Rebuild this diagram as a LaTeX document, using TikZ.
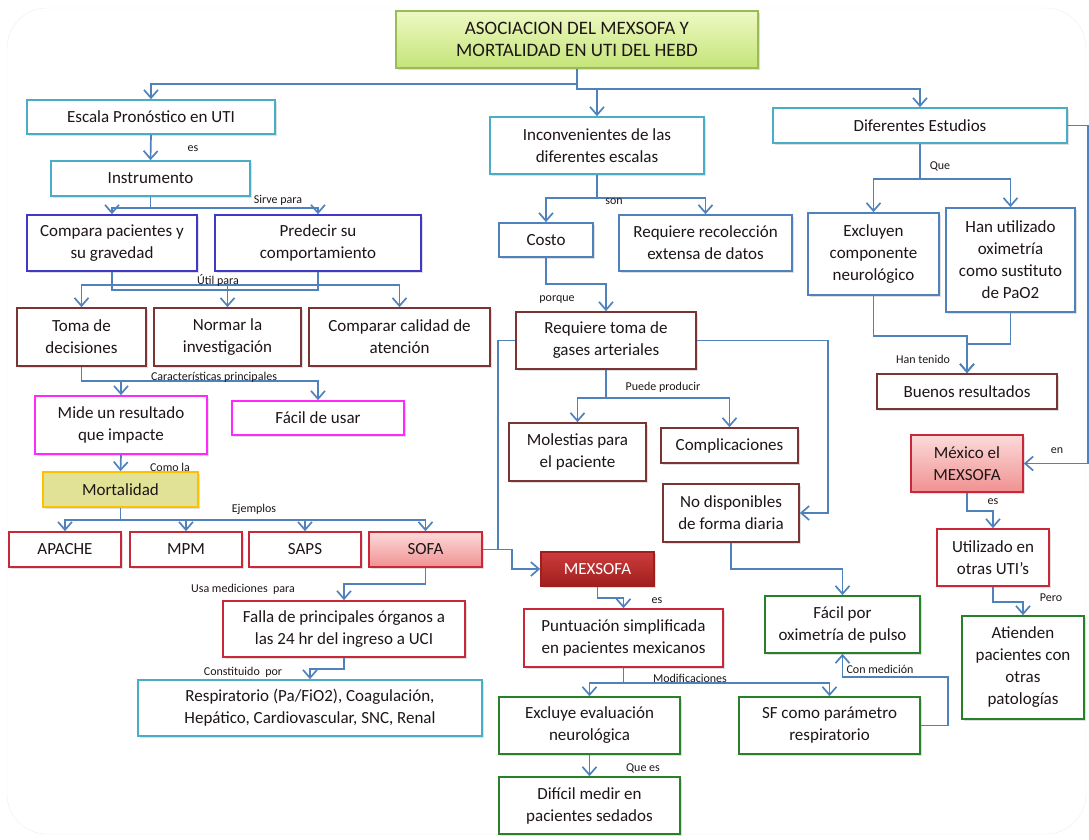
\documentclass[tikz,border=0pt]{standalone}
\usepackage{fontspec}
\setmainfont{Carlito}
\usetikzlibrary{arrows.meta,shadows}
\definecolor{cLink}{RGB}{79,129,189}
\definecolor{cSky}{RGB}{75,172,198}
\definecolor{cBlue}{RGB}{79,129,189}
\definecolor{cViolet}{RGB}{64,56,200}
\definecolor{cBrown}{RGB}{122,52,52}
\definecolor{cMagenta}{RGB}{255,40,255}
\definecolor{cRed}{RGB}{200,40,55}
\definecolor{cGreen}{RGB}{40,128,40}
\definecolor{cGold}{RGB}{255,192,0}
\definecolor{cOlive}{RGB}{226,226,150}
\definecolor{cPinkTop}{RGB}{252,218,218}
\definecolor{cPinkBot}{RGB}{240,145,145}
\definecolor{cWineTop}{RGB}{205,60,60}
\definecolor{cWineBot}{RGB}{160,30,30}
\definecolor{cLimeTop}{RGB}{238,249,195}
\definecolor{cLimeBot}{RGB}{196,228,120}
\definecolor{cLimeEdge}{RGB}{155,187,89}
\definecolor{cText}{RGB}{30,22,22}
\newcommand\cmapfont{\fontsize{17}{22}\selectfont}
\newcommand\cmaptitle{\fontsize{19}{22}\selectfont}
\newcommand\cmaptag{\fontsize{12}{14}\selectfont}
\tikzset{
  concept/.style={draw,fill=white,line width=1.7pt,align=center,inner sep=2pt,text=cText,font=\cmapfont,
    drop shadow={shadow xshift=2pt,shadow yshift=-2pt,opacity=0.25}},
  sky/.style={concept,draw=cSky},
  blue/.style={concept,draw=cBlue},
  violet/.style={concept,draw=cViolet},
  brown/.style={concept,draw=cBrown},
  magenta/.style={concept,draw=cMagenta},
  red/.style={concept,draw=cRed},
  green/.style={concept,draw=cGreen},
  pink/.style={concept,draw=cRed,top color=cPinkTop,bottom color=cPinkBot},
  wine/.style={concept,draw=cWineBot,top color=cWineTop,bottom color=cWineBot,text=white},
  link/.style={draw=cLink,line width=1.7pt,-{Straight Barb[length=8pt,width=14pt]}},
  wire/.style={draw=cLink,line width=1.7pt},
  tag/.style={font=\cmaptag,inner sep=1pt,text=cText},
}
\begin{document}
\begin{tikzpicture}[x=1pt,y=-1pt]
\useasboundingbox (0,0) rectangle (1089,839);
\draw[black!7,rounded corners=40pt] (7,8) rectangle (1086,834);

% title
\node[concept,draw=cLimeEdge,top color=cLimeTop,bottom color=cLimeBot,font=\cmaptitle,minimum width=362pt,minimum height=57pt] (title) at (577,39.5) {ASOCIACION DEL MEXSOFA Y\\MORTALIDAD EN UTI DEL HEBD};

% left column
\node[sky,minimum width=248pt,minimum height=34pt] (escala) at (151,117) {Escala Pronóstico en UTI};
\node[sky,minimum width=199pt,minimum height=35pt] (instr) at (150.5,178.5) {Instrumento};
\node[violet,minimum width=170pt,minimum height=56pt] (comp) at (112,243) {Compara pacientes y\\su gravedad};
\node[violet,minimum width=206pt,minimum height=56pt] (pred) at (318,243) {Predecir su\\comportamiento};
\node[brown,minimum width=129pt,minimum height=58pt] (toma) at (81.5,337) {Toma de\\decisiones};
\node[brown,minimum width=147pt,minimum height=58pt] (normar) at (227.5,337) {Normar la\\investigación};
\node[brown,minimum width=181pt,minimum height=58pt] (compcal) at (399.5,337) {Comparar calidad de\\atención};
\node[magenta,minimum width=172pt,minimum height=58pt] (mide) at (121,425) {Mide un resultado\\que impacte};
\node[magenta,minimum width=172pt,minimum height=34pt] (facil) at (318,418) {Fácil de usar};
\node[concept,draw=cGold,fill=cOlive,minimum width=155pt,minimum height=35pt] (mort) at (120.5,489.5) {Mortalidad};
\node[red,minimum width=112pt,minimum height=35pt] (apache) at (65,549.5) {APACHE};
\node[red,minimum width=112pt,minimum height=35pt] (mpm) at (186,549.5) {MPM};
\node[red,minimum width=112pt,minimum height=35pt] (saps) at (305,549.5) {SAPS};
\node[pink,minimum width=113pt,minimum height=35pt] (sofa) at (425.5,549.5) {SOFA};
\node[red,minimum width=242pt,minimum height=56pt] (falla) at (344,629) {Falla de principales órganos a\\las 24 hr del ingreso a UCI};
\node[sky,minimum width=344pt,minimum height=56pt] (resp) at (310,708) {Respiratorio (Pa/FiO2), Coagulación,\\Hepático, Cardiovascular, SNC, Renal};

% middle column
\node[sky,minimum width=214pt,minimum height=57pt] (inconv) at (597,145.5) {Inconvenientes de las\\diferentes escalas};
\node[blue,minimum width=94pt,minimum height=34pt] (costo) at (546,240) {Costo};
\node[blue,minimum width=173pt,minimum height=56pt] (recol) at (705.5,243) {Requiere recolección\\extensa de datos};
\node[brown,minimum width=180pt,minimum height=57pt] (reqgas) at (606,340.5) {Requiere toma de\\gases arteriales};
\node[brown,minimum width=137pt,minimum height=58pt] (molest) at (577.5,452) {Molestias para\\el paciente};
\node[brown,minimum width=137pt,minimum height=35pt] (compl) at (729.5,445.5) {Complicaciones};
\node[brown,minimum width=136pt,minimum height=58pt] (nodisp) at (731,513) {No disponibles\\de forma diaria};
\node[wine,minimum width=113pt,minimum height=34pt] (mexsofa) at (597.5,569) {MEXSOFA};
\node[red,minimum width=199pt,minimum height=58pt] (punt) at (623.5,638) {Puntuación simplificada\\en pacientes mexicanos};
\node[green,minimum width=181pt,minimum height=57pt] (exclev) at (589.5,725.5) {Excluye evaluación\\neurológica};
\node[green,minimum width=181pt,minimum height=57pt] (sf) at (829.5,725.5) {SF como parámetro\\respiratorio};
\node[green,minimum width=181pt,minimum height=57pt] (dificil) at (589.5,805.5) {Difícil medir en\\pacientes sedados};
\node[green,minimum width=155pt,minimum height=57pt] (fox) at (842.5,624.5) {Fácil por\\oximetría de pulso};

% right column
\node[sky,minimum width=294pt,minimum height=35pt] (dif) at (920,125.5) {Diferentes Estudios};
\node[blue,minimum width=131pt,minimum height=82pt] (excl) at (873.5,254) {Excluyen\\componente\\neurológico};
\node[blue,minimum width=129pt,minimum height=104pt] (han) at (1010.5,260) {Han utilizado\\oximetría\\como sustituto\\de PaO2};
\node[brown,minimum width=180pt,minimum height=35pt] (buenos) at (967,391.5) {Buenos resultados};
\node[pink,minimum width=112pt,minimum height=57pt] (mex) at (967,463.5) {México el\\MEXSOFA};
\node[red,minimum width=112pt,minimum height=57pt] (util) at (993,557.5) {Utilizado en\\otras UTI’s};
\node[green,minimum width=122pt,minimum height=103pt] (atien) at (1023,667.5) {Atienden\\pacientes con\\otras\\patologías};

% connectors
\draw[link] (title.south) -- ++(0,15) -| (escala.north);
\draw[link] (title.south) -- ++(0,20) -| (inconv.north);
\draw[link] (title.south) -- ++(0,20) -| (dif.north);

\draw[link] (escala.south) -- (instr.north);
\draw[link] (instr.south) -- ++(0,11) -| (comp.north);
\draw[link] (instr.south) -- ++(0,11) -| (pred.north);
\draw[wire] (comp.south) -- ++(0,18) -| (pred.south);
\foreach \n in {toma,normar,compcal}
  \draw[link] (comp.south) -- ++(0,13) -| (\n.north);
\draw[link] (toma.south) -- ++(0,14) -| (mide.north);
\draw[link] (toma.south) -- ++(0,14) -| (facil.north);
\draw[link] (mide.south) -- (mort.north);
\foreach \n in {apache,mpm,saps,sofa}
  \draw[link] (mort.south) -- ++(0,12) -| (\n.north);
\draw[link] (sofa.south) -- ++(0,16) -| (falla.north);
\draw[link] (falla.south) -- ++(0,11) -| (resp.north);
\draw[link] (sofa.east) -- ++(29,0) |- (mexsofa.west);
\draw[wire] (reqgas.west) -- ++(-17,0) |- (sofa.east);

\draw[link] (inconv.south) -- ++(0,23) -| (costo.north);
\draw[link] (inconv.south) -- ++(0,23) -| (recol.north);
\draw[link] (costo.south) -- ++(0,26) -| (reqgas.north);
\draw[link] (reqgas.south) -- ++(0,28) -| (molest.north);
\draw[link] (reqgas.south) -- ++(0,28) -| (compl.north);
\draw[link] (reqgas.east) -- ++(131,0) |- (nodisp.east);
\draw[link] (nodisp.south) -- ++(0,26) -| (fox.north);
\draw[link] (mexsofa.south) -- ++(0,11) -| (punt.north);
\draw[link] (punt.south) -- ++(0,15) -| (exclev.north);
\draw[link] (punt.south) -- ++(0,15) -| (sf.north);
\draw[link] (exclev.south) -- (dificil.north);
\draw[link] (sf.east) -- ++(27,0) |- ([yshift=-23pt]fox.south) -- (fox.south);

\draw[link] (dif.south) -- ++(0,35) -| (excl.north);
\draw[link] (dif.south) -- ++(0,35) -| (han.north);
\draw[link] (excl.south) -- ++(0,40) -| (buenos.north);
\draw[link] (han.south) -- ++(0,31) -| (buenos.north);
\draw[link] (dif.east) -- ++(20,0) |- (mex.east);
\draw[link] (mex.south) -- ++(0,18) -| (util.north);
\draw[link] (util.south) -- ++(0,15) -| (atien.north);

% connector labels
\node[tag] (tes1) at (193,149) {es};
\node[tag] (tsirve) at (278,200) {Sirve para};
\node[tag] (tutil) at (218,280) {Útil para};
\node[tag] (tcarac) at (214,377) {Características principales};
\node[tag] (tcomo) at (170,467) {Como la};
\node[tag] (tejem) at (254,509) {Ejemplos};
\node[tag] (tusa) at (243,589) {Usa mediciones\ \ para};
\node[tag] (tconst) at (243,672) {Constituido\ \ por};
\node[tag] (tson) at (614,202) {son};
\node[tag] (tporque) at (557,300) {porque};
\node[tag] (tpuede) at (663,387) {Puede producir};
\node[tag] (tque) at (940,166) {Que};
\node[tag] (thant) at (923,359) {Han tenido};
\node[tag] (ten) at (1057,451) {en};
\node[tag] (tes2) at (993,502) {es};
\node[tag] (tpero) at (1051,598) {Pero};
\node[tag] (tes3) at (657,601) {es};
\node[tag] (tmodif) at (690,678) {Modificaciones};
\node[tag] (tcon) at (880,669) {Con medición};
\node[tag] (tquees) at (643,768) {Que es};
\end{tikzpicture}
\end{document}
